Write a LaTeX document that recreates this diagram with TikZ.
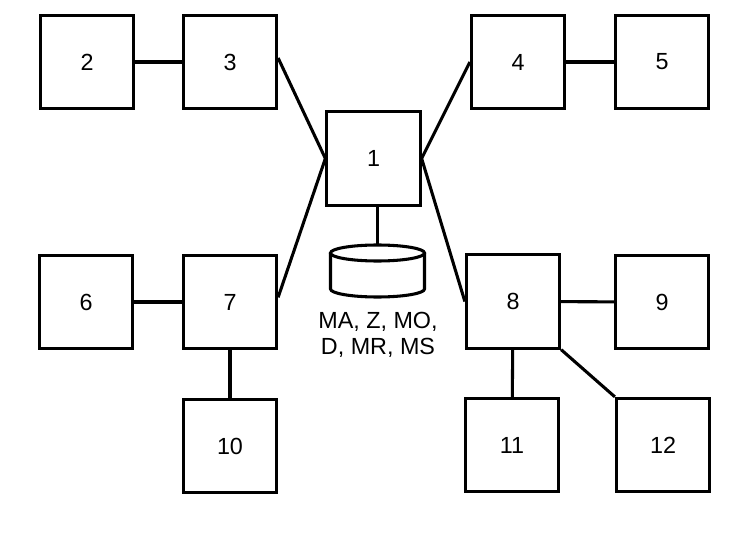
\documentclass[tikz,border=0pt]{standalone}
\usepackage{fontspec}
\setmainfont{Liberation Sans}
\usetikzlibrary{calc}
\begin{document}
\begin{tikzpicture}[x=0.75pt,y=-0.75pt,
  box/.style={draw,line width=2.2pt,minimum size=70pt,inner sep=0pt,font=\fontsize{17.5}{20}\selectfont},
  link/.style={line width=2.3pt}]
\useasboundingbox (0,0) rectangle (753,538);
\node[box] (n1) at (373.5,158.5) {1};
\node[box] (n2) at (87,62) {2};
\node[box] (n3) at (230,62) {3};
\node[box] (n4) at (518,62) {4};
\node[box] (n5) at (662,62) {5};
\node[box] (n6) at (86,302) {6};
\node[box] (n7) at (230,302) {7};
\node[box] (n8) at (513,301.5) {8};
\node[box] (n9) at (662,302) {9};
\node[box] (n10) at (230,446) {10};
\node[box] (n11) at (512,445) {11};
\node[box] (n12) at (663,445) {12};
% cylinder
\coordinate (cyltop) at (377.5,245);
\draw[link] (330.5,253) -- (330.5,289) arc[start angle=180,end angle=0,x radius=47,y radius=8] -- (424.5,253);
\draw[link] (377.5,253) ellipse[x radius=47,y radius=8];
\node[anchor=north,inner sep=0pt,align=center,font=\fontsize{17.5}{19.5}\selectfont] (lbl) at (378,312) {MA, Z, MO,\\D, MR, MS};
% connectors
\draw[link] (n2) -- (n3);
\draw[link] (n4) -- (n5);
\draw[link] (n6) -- (n7);
\draw[link] (n7) -- (n10);
\draw[link] (n8) -- (n9);
\draw[link] (n8) -- (n11);
\draw[link] (n8.south east) -- (n12.north west);
\draw[link] ([yshift=3pt]n3.east) -- (n1.west);
\draw[link] ([yshift=3.5pt]n7.east) -- (n1.west);
\draw[link] (n4.west) -- (n1.east);
\draw[link] (n8.west) -- (n1.east);
\draw[link] (n1.south -| cyltop) -- (cyltop);
\end{tikzpicture}
\end{document}
